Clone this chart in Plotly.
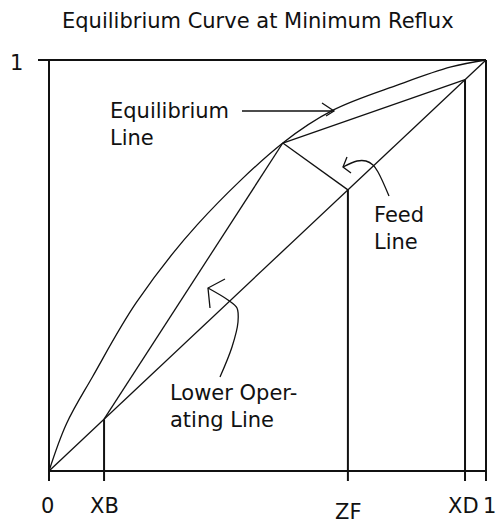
import plotly.graph_objects as go

# ---- data (fractions of the unit square) ----
title_text = "Equilibrium Curve at Minimum Reflux"
x_B = 0.126
z_F = 0.684
x_D = 0.952
pinch_x = 0.535
pinch_y = 0.798

eq_x = [0, 0.04, 0.10, 0.20, 0.34, 0.535, 0.65, 0.80, 0.92, 1]
eq_y = [0, 0.115, 0.23, 0.41, 0.60, 0.798, 0.878, 0.94, 0.983, 1]

tick_vals = [0, x_B, z_F, x_D, 1]
tick_text = ["0", "XB", "ZF", "XD", "1"]

# ---- figure geometry (pixels) ----
W, H = 497, 525
PX0, PX1 = 49, 486   # x=0 .. x=1
PY0, PY1 = 471, 60   # y=0 .. y=1
sx = PX1 - PX0
sy = PY0 - PY1
def fx(px):
    return (px - PX0) / sx
def fy(py):
    return (PY0 - py) / sy

xr = [fx(0), fx(W)]
yr = [fy(H), fy(0)]
tick_len = fy(481)
LC = "#111111"

fig = go.Figure()

def seg(xs, ys, w=1.4):
    fig.add_trace(go.Scatter(x=xs, y=ys, mode="lines",
                             line=dict(color=LC, width=w),
                             hoverinfo="skip", showlegend=False))

# frame
seg([fx(38), 1], [1, 1], 2)
seg([0, 0], [1, tick_len], 2)
seg([1, 1], [1, tick_len], 2)
seg([0, 1], [0, 0], 2)
# diagonal
seg([0, 1], [0, 1], 1.3)
# verticals from diagonal down through ticks
for v in tick_vals[1:4]:
    seg([v, v], [v, tick_len], 2)
# operating lines / feed line
seg([z_F, pinch_x], [z_F, pinch_y], 1.3)
seg([pinch_x, x_D], [pinch_y, x_D], 1.3)
seg([x_B, pinch_x], [x_B, pinch_y], 1.3)
# equilibrium curve
fig.add_trace(go.Scatter(x=eq_x, y=eq_y, mode="lines",
                         line=dict(color=LC, width=1.3, shape="spline", smoothing=1.0),
                         hoverinfo="skip", showlegend=False))

# hand-drawn pointer arrows (pixel paths)
arrows = [
    ([(242, 111), (320, 111), (334, 111)], [(322, 103), (334, 111), (326, 116)]),
    ([(389, 196), (378, 172), (373, 165), (366, 161), (357, 161), (343, 167)],
     [(347, 157), (343, 167), (351, 173)]),
    ([(220, 377), (232, 347), (238, 322), (237, 308), (228, 300), (208, 288)],
     [(225, 279), (208, 288), (210, 308)]),
]
for path, head in arrows:
    fig.add_trace(go.Scatter(x=[fx(p[0]) for p in path], y=[fy(p[1]) for p in path],
                             mode="lines", line=dict(color=LC, width=1.3, shape="spline"),
                             hoverinfo="skip", showlegend=False))
    seg([fx(p[0]) for p in head], [fy(p[1]) for p in head], 1.3)

FONT = dict(family="DejaVu Sans, Arial, sans-serif", size=21, color="#111111")
anns = []
def ann(text, x, y, xanchor="center", yanchor="middle", size=21, align="center"):
    anns.append(dict(text=text, x=x, y=y, xref="x", yref="y",
                     xanchor=xanchor, yanchor=yanchor, showarrow=False, align=align,
                     font=dict(FONT, size=size)))

# tick labels
for v, t in zip(tick_vals, tick_text):
    yy = fy(512) if t == "ZF" else fy(506)
    xx = v
    if t == "1":
        xx = fx(489)
    if t == "0":
        xx = fx(47)
    if t == "XD":
        xx = fx(463)
    ann(t, xx, yy)
ann("1", fx(16), fy(63))

ann("Equilibrium<br>Line", fx(108), fy(124), xanchor="left", align="left")
ann("Feed<br>Line", fx(372), fy(228), xanchor="left", align="left")
ann("Lower Oper-<br>ating Line", fx(168), fy(406), xanchor="left", align="left")
ann(title_text, fx(258), fy(21))

fig.update_layout(
    width=W, height=H,
    margin=dict(l=0, r=0, t=0, b=0),
    paper_bgcolor="white", plot_bgcolor="white",
    xaxis=dict(range=xr, visible=False, fixedrange=True),
    yaxis=dict(range=yr, visible=False, fixedrange=True),
    annotations=anns,
    showlegend=False,
)
fig.write_html("out.html", config={"displayModeBar": False},
               post_script="document.body.style.margin='0px';document.body.style.overflow='hidden';")
